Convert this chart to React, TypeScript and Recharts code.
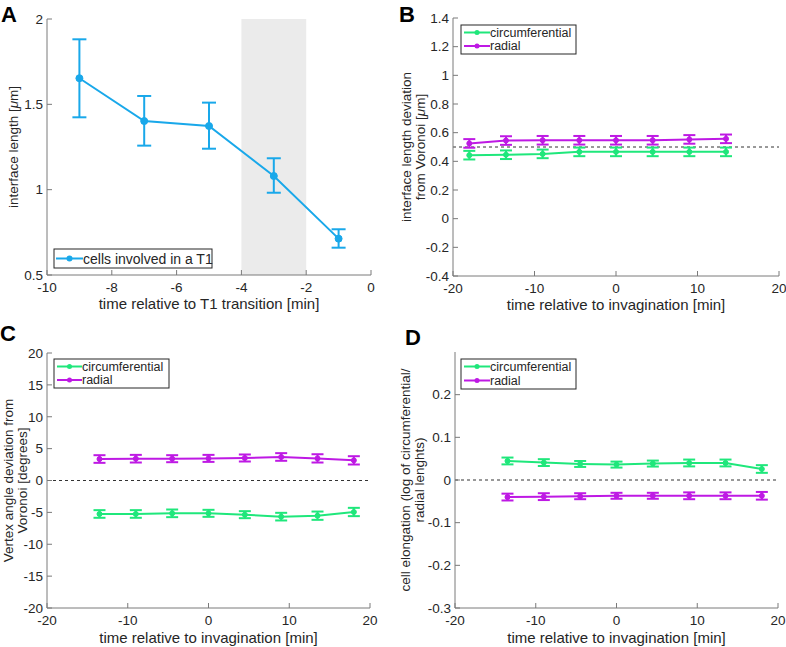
import React from 'react';
import { LineChart, Line, XAxis, YAxis, ErrorBar, ReferenceLine, ReferenceArea } from 'recharts';

const FONT = '"Liberation Sans", Arial, Helvetica, sans-serif';
const INK = '#262626';
const BOX = '#7a7a7a';
const BLUE = '#19A8EA';
const GREEN = '#1FE77B';
const MAGENTA = '#BE19E4';

// A: interface length before a T1
const aTime = [-9, -7, -5, -3, -1];
const aLength = [1.653, 1.402, 1.373, 1.08, 0.713];
const aLow = [1.424, 1.258, 1.24, 0.982, 0.66];
const aHigh = [1.881, 1.549, 1.51, 1.184, 0.768];
const aShade = [-4, -2];
const aXTicks = [-10, -8, -6, -4, -2, 0];
const aYTicks = [0.5, 1, 1.5, 2];

// B: interface length deviation from Voronoi
const bTime = [-18, -13.5, -9, -4.5, 0, 4.5, 9, 13.5];
const bCirc = [0.443, 0.446, 0.452, 0.466, 0.466, 0.466, 0.466, 0.466];
const bCircErr = [0.03, 0.03, 0.03, 0.03, 0.03, 0.03, 0.03, 0.03];
const bRadial = [0.525, 0.545, 0.547, 0.547, 0.547, 0.547, 0.553, 0.557];
const bRadialErr = [0.03, 0.03, 0.03, 0.03, 0.03, 0.03, 0.03, 0.03];
const bXTicks = [-20, -10, 0, 10, 20];
const bYTicks = [-0.4, -0.2, 0, 0.2, 0.4, 0.6, 0.8, 1, 1.2, 1.4];

// C: vertex angle deviation
const cdTime = [-13.5, -9, -4.5, 0, 4.5, 9, 13.5, 18];
const cCirc = [-5.25, -5.25, -5.15, -5.15, -5.36, -5.67, -5.52, -4.94];
const cCircErr = [0.6, 0.6, 0.6, 0.55, 0.55, 0.6, 0.65, 0.65];
const cRadial = [3.37, 3.42, 3.42, 3.47, 3.53, 3.69, 3.47, 3.16];
const cRadialErr = [0.6, 0.6, 0.55, 0.55, 0.55, 0.6, 0.65, 0.65];
const cXTicks = [-20, -10, 0, 10, 20];
const cYTicks = [-20, -15, -10, -5, 0, 5, 10, 15, 20];

// D: cell elongation
const dCirc = [0.0446, 0.0408, 0.0376, 0.0361, 0.0385, 0.0399, 0.0399, 0.0258];
const dCircErr = [0.008, 0.008, 0.007, 0.007, 0.007, 0.008, 0.008, 0.009];
const dRadial = [-0.04, -0.039, -0.038, -0.037, -0.037, -0.037, -0.037, -0.037];
const dRadialErr = [0.008, 0.008, 0.007, 0.007, 0.007, 0.008, 0.008, 0.009];
const dXTicks = [-20, -10, 0, 10, 20];
const dYTicks = [-0.3, -0.2, -0.1, 0, 0.1, 0.2];

const seriesNames = ['circumferential', 'radial'];
const aName = 'cells involved in a T1';

const rows = (xs: number[], ys: number[], err: (i: number) => number | number[]) =>
  xs.map((x, i) => ({ x, y: ys[i], e: err(i) }));

const aData = rows(aTime, aLength, i => [aLength[i] - aLow[i], aHigh[i] - aLength[i]]);
const bCircData = rows(bTime, bCirc, i => bCircErr[i]);
const bRadialData = rows(bTime, bRadial, i => bRadialErr[i]);
const cCircData = rows(cdTime, cCirc, i => cCircErr[i]);
const cRadialData = rows(cdTime, cRadial, i => cRadialErr[i]);
const dCircData = rows(cdTime, dCirc, i => dCircErr[i]);
const dRadialData = rows(cdTime, dRadial, i => dRadialErr[i]);

const fmt = (v: number) => String(Number(v.toFixed(2)));
const tickStyle = { fill: INK, fontSize: 13.5, fontFamily: FONT };

function XTitle(props: any) {
  const { viewBox, text, dy } = props;
  return (
    <text x={viewBox.x + viewBox.width / 2} y={viewBox.y + dy} textAnchor="middle"
      fontSize={15} fontFamily={FONT} fill={INK}>{text}</text>
  );
}

function YTitle(props: any) {
  const { viewBox, lines } = props;
  const cy = viewBox.y + viewBox.height / 2;
  return (
    <g>
      {lines.map((l: any, i: number) => (
        <text key={i} x={l.x} y={cy} transform={`rotate(-90 ${l.x} ${cy})`} textAnchor="middle"
          dominantBaseline="central" fontSize={13.5} fontFamily={FONT} fill={INK}>{l.text}</text>
      ))}
    </g>
  );
}

// MATLAB style box: inward ticks on all four sides
function boxAxes(xDomain: number[], xTicks: number[], yDomain: number[], yTicks: number[],
  xH: number, yW: number, xTitle: any, yTitle: any) {
  return [
    <XAxis key="xb" type="number" dataKey="x" domain={xDomain} ticks={xTicks} height={xH}
      stroke={BOX} tickSize={-5} tickMargin={12} tick={tickStyle} tickFormatter={fmt}
      allowDataOverflow interval={0} label={xTitle} />,
    <XAxis key="xt" xAxisId="top" orientation="top" type="number" domain={xDomain} ticks={xTicks}
      height={0} stroke={BOX} tickSize={-5} tick={false} allowDataOverflow />,
    <YAxis key="yl" type="number" domain={yDomain} ticks={yTicks} width={yW} stroke={BOX}
      tickSize={-5} tickMargin={9} tick={tickStyle} tickFormatter={fmt} allowDataOverflow
      interval={0} label={yTitle} />,
    <YAxis key="yr" yAxisId="right" orientation="right" type="number" domain={yDomain} ticks={yTicks}
      width={0} stroke={BOX} tickSize={-5} tick={false} allowDataOverflow />,
  ];
}

function series(key: string, data: any[], color: string, r: number, whisker: number) {
  return (
    <Line key={key} data={data} dataKey="y" type="linear" stroke={color} strokeWidth={2}
      dot={{ r, fill: color, stroke: color, strokeWidth: 1 }} isAnimationActive={false}>
      <ErrorBar dataKey="e" width={whisker} stroke={color} strokeWidth={2} direction="y" />
    </Line>
  );
}

function LegendBox({ x, y, w, h, items, lineX, textX, rows: rowY }: any) {
  return (
    <g>
      <rect x={x} y={y} width={w} height={h} fill="#fff" stroke={INK} strokeWidth={1} />
      {items.map((it: any, i: number) => (
        <g key={i}>
          <line x1={lineX[0]} x2={lineX[1]} y1={rowY[i]} y2={rowY[i]} stroke={it.color} strokeWidth={2} />
          <circle cx={(lineX[0] + lineX[1]) / 2} cy={rowY[i]} r={it.r} fill={it.color} />
          <text x={textX} y={rowY[i]} dominantBaseline="central" fontSize={it.size} fontFamily={FONT}
            fill={INK}>{it.name}</text>
        </g>
      ))}
    </g>
  );
}

export default function App() {
  const bcdItems = [
    { name: seriesNames[0], color: GREEN, r: 2.5, size: 12.5 },
    { name: seriesNames[1], color: MAGENTA, r: 2.5, size: 12.5 },
  ];
  const mu = <tspan fontStyle="italic">μ</tspan>;
  return (
    <div style={{ position: 'absolute', left: 0, top: 0, width: 786, height: 647, background: '#fff' }}>
      <div style={{ position: 'absolute', left: 0, top: 0 }}>
        <LineChart width={393} height={318} margin={{ top: 19, right: 22, left: 0, bottom: 0 }}>
          <ReferenceArea x1={aShade[0]} x2={aShade[1]} y1={0.5} y2={2} fill="#EBEBEB" fillOpacity={1}
            stroke="none" ifOverflow="hidden" />
          {boxAxes([-10, 0], aXTicks, [0.5, 2], aYTicks, 43, 47,
            <XTitle text="time relative to T1 transition [min]" dy={34} />,
            <YTitle lines={[{ x: 13, text: <>interface length [{mu}m]</> }]} />)}
          {series('a', aData, BLUE, 3.5, 7)}
        </LineChart>
      </div>
      <div style={{ position: 'absolute', left: 393, top: 0 }}>
        <LineChart width={393} height={318} margin={{ top: 18, right: 7, left: 0, bottom: 0 }}>
          <ReferenceLine y={0.5} stroke="#333" strokeDasharray="3 3" strokeWidth={1} />
          {boxAxes([-20, 20], bXTicks, [-0.4, 1.4], bYTicks, 42, 60,
            <XTitle text="time relative to invagination [min]" dy={34} />,
            <YTitle lines={[{ x: 13, text: 'interface length deviation' },
              { x: 27, text: <>from Voronoi [{mu}m]</> }]} />)}
          {series('bc', bCircData, GREEN, 2.5, 6)}
          {series('br', bRadialData, MAGENTA, 2.5, 6)}
        </LineChart>
      </div>
      <div style={{ position: 'absolute', left: 0, top: 310 }}>
        <LineChart width={393} height={337} margin={{ top: 43, right: 23, left: 0, bottom: 0 }}>
          <ReferenceLine y={0} stroke="#333" strokeDasharray="3 3" strokeWidth={1} />
          {boxAxes([-20, 20], cXTicks, [-20, 20], cYTicks, 39, 47,
            <XTitle text="time relative to invagination [min]" dy={35} />,
            <YTitle lines={[{ x: 8, text: 'Vertex angle deviation from' },
              { x: 22, text: 'Voronoi [degrees]' }]} />)}
          {series('cc', cCircData, GREEN, 2.5, 6)}
          {series('cr', cRadialData, MAGENTA, 2.5, 6)}
        </LineChart>
      </div>
      <div style={{ position: 'absolute', left: 393, top: 310 }}>
        <LineChart width={393} height={337} margin={{ top: 42, right: 8, left: 0, bottom: 0 }}>
          <ReferenceLine y={0} stroke="#333" strokeDasharray="3 3" strokeWidth={1} />
          {boxAxes([-20, 20], dXTicks, [-0.3, 0.3], dYTicks, 39, 62,
            <XTitle text="time relative to invagination [min]" dy={35} />,
            <YTitle lines={[{ x: 12, text: 'cell elongation (log of circumferential/' },
              { x: 26, text: 'radial lenghts)' }]} />)}
          {series('dc', dCircData, GREEN, 2.5, 6)}
          {series('dr', dRadialData, MAGENTA, 2.5, 6)}
        </LineChart>
      </div>
      <svg width={786} height={647} style={{ position: 'absolute', left: 0, top: 0, pointerEvents: 'none' }}>
        <g fontFamily={FONT} fontWeight="bold" fontSize={22} fill="#000">
          <text x={1} y={22}>A</text>
          <text x={399} y={22}>B</text>
          <text x={0} y={341}>C</text>
          <text x={405} y={345}>D</text>
        </g>
        <LegendBox x={54} y={249} w={158} h={19} lineX={[56, 83]} textX={83} rows={[258.5]}
          items={[{ name: aName, color: BLUE, r: 3, size: 14 }]} />
        <LegendBox x={461} y={25} w={115} h={29} lineX={[464, 490]} textX={490} rows={[32.5, 46]}
          items={bcdItems} />
        <LegendBox x={54} y={359} w={115} h={29} lineX={[57, 82]} textX={82} rows={[366.5, 380]}
          items={bcdItems} />
        <LegendBox x={461} y={359} w={115} h={30} lineX={[464, 490]} textX={490} rows={[366.5, 380.5]}
          items={bcdItems} />
      </svg>
    </div>
  );
}
